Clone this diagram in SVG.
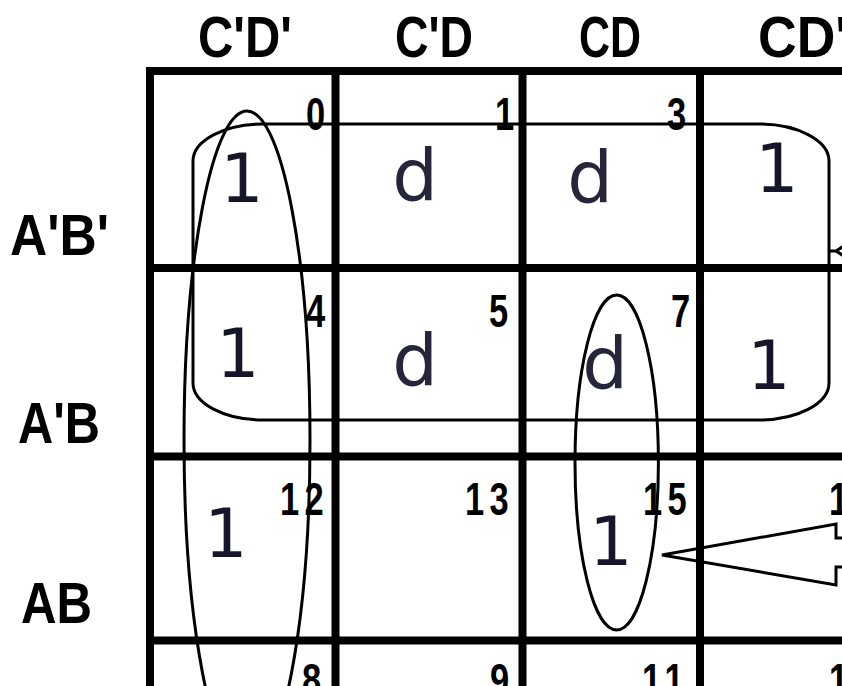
<svg xmlns="http://www.w3.org/2000/svg" width="842" height="686" viewBox="0 0 842 686">
<style>
.grid{stroke:#000;stroke-width:8;fill:none}
.loop{stroke:#000;stroke-width:3;fill:none}
.hdr{font-family:"Liberation Sans",Arial,sans-serif;font-weight:bold;font-size:58px;fill:#000}
.idx{font-family:"Liberation Sans",Arial,sans-serif;font-weight:bold;font-size:46px;fill:#000;letter-spacing:7px}
.one{font-family:"DejaVu Sans",Verdana,sans-serif;font-size:68px;fill:#16162a;text-anchor:middle}
.dc{font-family:"DejaVu Sans",Verdana,sans-serif;font-size:72px;fill:#26263a;text-anchor:middle}
</style>
<rect width="842" height="686" fill="#fff"/>
<g id="headers">
<text class="hdr" x="198" y="57" textLength="94" lengthAdjust="spacingAndGlyphs">C'D'</text>
<text class="hdr" x="395" y="57" textLength="78" lengthAdjust="spacingAndGlyphs">C'D</text>
<text class="hdr" x="579" y="57" textLength="62" lengthAdjust="spacingAndGlyphs">CD</text>
<text class="hdr" x="758" y="57" textLength="90" lengthAdjust="spacingAndGlyphs">CD'</text>
<text class="hdr" x="10" y="255" textLength="99" lengthAdjust="spacingAndGlyphs">A'B'</text>
<text class="hdr" x="18" y="443" textLength="82" lengthAdjust="spacingAndGlyphs">A'B</text>
<text class="hdr" x="21" y="623" textLength="71" lengthAdjust="spacingAndGlyphs">AB</text>
</g>
<g id="grid" class="grid">
<line x1="146" y1="71" x2="842" y2="71"/>
<line x1="146" y1="268" x2="842" y2="268"/>
<line x1="146" y1="456.5" x2="842" y2="456.5"/>
<line x1="146" y1="640.5" x2="842" y2="640.5"/>
<line x1="150" y1="67" x2="150" y2="686"/>
<line x1="335.5" y1="67" x2="335.5" y2="686"/>
<line x1="522.5" y1="67" x2="522.5" y2="686"/>
<line x1="700" y1="67" x2="700" y2="686"/>
</g>
<g id="cell0"><text class="idx" transform="translate(306,130) scale(0.75,1)">0</text><text class="one" x="242" y="202">1</text></g>
<g id="cell1"><text class="idx" transform="translate(495,130) scale(0.75,1)">1</text><text class="dc" x="415" y="200">d</text></g>
<g id="cell3"><text class="idx" transform="translate(667,130) scale(0.75,1)">3</text><text class="dc" x="590" y="202">d</text></g>
<g id="cell2"><text class="one" x="777" y="192">1</text></g>
<g id="cell4"><text class="idx" transform="translate(306,327) scale(0.75,1)">4</text><text class="one" x="238" y="377">1</text></g>
<g id="cell5"><text class="idx" transform="translate(489,327) scale(0.75,1)">5</text><text class="dc" x="415" y="385">d</text></g>
<g id="cell7"><text class="idx" transform="translate(671,327) scale(0.75,1)">7</text><text class="dc" x="605" y="388">d</text></g>
<g id="cell6"><text class="one" x="769" y="389">1</text></g>
<g id="cell12"><text class="idx" transform="translate(280,515) scale(0.75,1)">12</text><text class="one" x="226" y="557">1</text></g>
<g id="cell13"><text class="idx" transform="translate(465,515) scale(0.75,1)">13</text></g>
<g id="cell15"><text class="idx" transform="translate(643,515) scale(0.75,1)">15</text><text class="one" x="611" y="565">1</text></g>
<g id="cell14"><text class="idx" transform="translate(829,515) scale(0.75,1)">14</text></g>
<g id="cell8"><text class="idx" transform="translate(302,696) scale(0.75,1)">8</text></g>
<g id="cell9"><text class="idx" transform="translate(490,696) scale(0.75,1)">9</text></g>
<g id="cell11"><text class="idx" transform="translate(642,696) scale(0.75,1)">11</text></g>
<g id="cell10"><text class="idx" transform="translate(829,696) scale(0.75,1)">10</text></g>
<g id="loops" class="loop">
<rect x="193" y="124" width="636" height="296" rx="70" ry="37"/>
<ellipse cx="247" cy="440" rx="63" ry="329"/>
<ellipse cx="616.7" cy="462.5" rx="41.7" ry="167.5"/>
<polyline points="850,538 836,538 836,524 662,555 836,585 836,567 850,567"/>
<polyline points="829,251 836,251 850,242"/>
<line x1="836" y1="251" x2="850" y2="260"/>
</g>
</svg>
